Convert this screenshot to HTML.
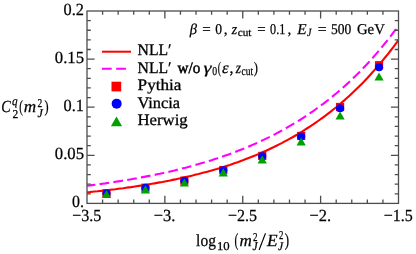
<!DOCTYPE html>
<html><head><meta charset="utf-8"><title>plot</title><style>
html,body{margin:0;padding:0;background:#fff;}
svg{display:block;}
text{font-family:"Liberation Serif",serif;fill:#000;stroke:#000;text-rendering:geometricPrecision;}
.i{font-style:italic;}
</style></head><body>
<svg width="416" height="254" viewBox="0 0 416 254">
<rect width="416" height="254" fill="#fff"/>
<defs><clipPath id="c"><rect x="87.00" y="11.00" width="311.50" height="192.40"/></clipPath></defs>

<g clip-path="url(#c)" fill="none" stroke-width="2.1">
<path d="M87.0,185.8 L89.6,185.5 L92.2,185.1 L94.8,184.8 L97.4,184.5 L100.0,184.1 L102.6,183.7 L105.2,183.4 L107.8,183.0 L110.4,182.6 L113.0,182.2 L115.6,181.8 L118.2,181.4 L120.7,181.0 L123.3,180.6 L125.9,180.2 L128.5,179.7 L131.1,179.3 L133.7,178.8 L136.3,178.4 L138.9,177.9 L141.5,177.4 L144.1,176.9 L146.7,176.4 L149.3,175.9 L151.9,175.4 L154.5,174.9 L157.1,174.3 L159.7,173.8 L162.3,173.2 L164.9,172.7 L167.5,172.1 L170.1,171.5 L172.7,170.9 L175.3,170.3 L177.9,169.6 L180.5,169.0 L183.0,168.3 L185.6,167.7 L188.2,167.0 L190.8,166.3 L193.4,165.6 L196.0,164.8 L198.6,164.1 L201.2,163.3 L203.8,162.6 L206.4,161.8 L209.0,161.0 L211.6,160.2 L214.2,159.3 L216.8,158.5 L219.4,157.6 L222.0,156.7 L224.6,155.8 L227.2,154.9 L229.8,154.0 L232.4,153.0 L235.0,152.0 L237.6,151.0 L240.2,150.0 L242.8,149.0 L245.3,147.9 L247.9,146.9 L250.5,145.7 L253.1,144.6 L255.7,143.5 L258.3,142.3 L260.9,141.1 L263.5,139.9 L266.1,138.6 L268.7,137.4 L271.3,136.1 L273.9,134.8 L276.5,133.4 L279.1,132.0 L281.7,130.6 L284.3,129.2 L286.9,127.7 L289.5,126.2 L292.1,124.7 L294.7,123.2 L297.3,121.6 L299.9,120.0 L302.5,118.3 L305.0,116.6 L307.6,114.9 L310.2,113.1 L312.8,111.4 L315.4,109.5 L318.0,107.7 L320.6,105.7 L323.2,103.8 L325.8,101.8 L328.4,99.8 L331.0,97.7 L333.6,95.6 L336.2,93.5 L338.8,91.2 L341.4,89.0 L344.0,86.7 L346.6,84.4 L349.2,82.0 L351.8,79.5 L354.4,77.0 L357.0,74.5 L359.6,71.9 L362.2,69.2 L364.8,66.5 L367.4,63.8 L369.9,61.0 L372.5,58.1 L375.1,55.1 L377.7,52.1 L380.3,49.1 L382.9,45.9 L385.5,42.7 L388.1,39.5 L390.7,36.1 L393.3,32.7 L395.9,29.3 L398.5,25.7" stroke="#ff00ff" stroke-dasharray="9.7 4.28" stroke-dashoffset="1.3"/>
<path d="M87.0,192.3 L89.6,192.1 L92.2,191.8 L94.8,191.5 L97.4,191.3 L100.0,191.0 L102.6,190.7 L105.2,190.4 L107.8,190.1 L110.4,189.8 L113.0,189.5 L115.6,189.2 L118.2,188.8 L120.7,188.5 L123.3,188.2 L125.9,187.8 L128.5,187.4 L131.1,187.1 L133.7,186.7 L136.3,186.3 L138.9,185.9 L141.5,185.5 L144.1,185.1 L146.7,184.7 L149.3,184.3 L151.9,183.8 L154.5,183.4 L157.1,182.9 L159.7,182.4 L162.3,182.0 L164.9,181.5 L167.5,181.0 L170.1,180.5 L172.7,179.9 L175.3,179.4 L177.9,178.8 L180.5,178.3 L183.0,177.7 L185.6,177.1 L188.2,176.5 L190.8,175.9 L193.4,175.3 L196.0,174.6 L198.6,174.0 L201.2,173.3 L203.8,172.6 L206.4,171.9 L209.0,171.2 L211.6,170.5 L214.2,169.7 L216.8,169.0 L219.4,168.2 L222.0,167.4 L224.6,166.6 L227.2,165.7 L229.8,164.9 L232.4,164.0 L235.0,163.1 L237.6,162.2 L240.2,161.2 L242.8,160.3 L245.3,159.3 L247.9,158.3 L250.5,157.3 L253.1,156.2 L255.7,155.2 L258.3,154.1 L260.9,153.0 L263.5,151.8 L266.1,150.7 L268.7,149.5 L271.3,148.2 L273.9,147.0 L276.5,145.7 L279.1,144.4 L281.7,143.1 L284.3,141.7 L286.9,140.3 L289.5,138.9 L292.1,137.5 L294.7,136.0 L297.3,134.5 L299.9,132.9 L302.5,131.3 L305.0,129.7 L307.6,128.0 L310.2,126.3 L312.8,124.6 L315.4,122.8 L318.0,121.0 L320.6,119.2 L323.2,117.3 L325.8,115.4 L328.4,113.4 L331.0,111.4 L333.6,109.3 L336.2,107.2 L338.8,105.0 L341.4,102.8 L344.0,100.6 L346.6,98.3 L349.2,95.9 L351.8,93.5 L354.4,91.1 L357.0,88.6 L359.6,86.0 L362.2,83.4 L364.8,80.7 L367.4,78.0 L369.9,75.2 L372.5,72.3 L375.1,69.4 L377.7,66.4 L380.3,63.3 L382.9,60.2 L385.5,57.0 L388.1,53.8 L390.7,50.5 L393.3,47.1 L395.9,43.6 L398.5,40.0" stroke="#ff0000"/>
</g>
<rect x="102.37" y="189.20" width="8.2" height="8.2" fill="#ff0000"/>
<rect x="141.31" y="183.60" width="8.2" height="8.2" fill="#ff0000"/>
<rect x="180.24" y="176.50" width="8.2" height="8.2" fill="#ff0000"/>
<rect x="219.18" y="166.00" width="8.2" height="8.2" fill="#ff0000"/>
<rect x="258.12" y="151.80" width="8.2" height="8.2" fill="#ff0000"/>
<rect x="297.06" y="131.80" width="8.2" height="8.2" fill="#ff0000"/>
<rect x="335.99" y="102.90" width="8.2" height="8.2" fill="#ff0000"/>
<rect x="374.93" y="61.10" width="8.2" height="8.2" fill="#ff0000"/>
<circle cx="106.47" cy="193.50" r="4.05" fill="#0000ff"/>
<circle cx="145.41" cy="187.90" r="4.05" fill="#0000ff"/>
<circle cx="184.34" cy="180.80" r="4.05" fill="#0000ff"/>
<circle cx="223.28" cy="170.30" r="4.05" fill="#0000ff"/>
<circle cx="262.22" cy="156.20" r="4.05" fill="#0000ff"/>
<circle cx="301.16" cy="136.50" r="4.05" fill="#0000ff"/>
<circle cx="340.09" cy="108.20" r="4.05" fill="#0000ff"/>
<circle cx="379.03" cy="67.20" r="4.05" fill="#0000ff"/>
<path d="M106.47,190.00 L111.07,198.10 L101.87,198.10 Z" fill="#00a000"/>
<path d="M145.41,185.30 L150.01,193.40 L140.81,193.40 Z" fill="#00a000"/>
<path d="M184.34,178.40 L188.94,186.50 L179.74,186.50 Z" fill="#00a000"/>
<path d="M223.28,168.30 L227.88,176.40 L218.68,176.40 Z" fill="#00a000"/>
<path d="M262.22,155.30 L266.82,163.40 L257.62,163.40 Z" fill="#00a000"/>
<path d="M301.16,137.30 L305.76,145.40 L296.56,145.40 Z" fill="#00a000"/>
<path d="M340.09,111.50 L344.69,119.60 L335.49,119.60 Z" fill="#00a000"/>
<path d="M379.03,72.50 L383.63,80.60 L374.43,80.60 Z" fill="#00a000"/>
<g stroke="#4d4d4d" stroke-width="1.3" fill="none">
<rect x="87.00" y="11.00" width="311.50" height="192.40"/>
<path d="M102.58,203.40 v-3.80 M102.58,11.00 v3.80"/>
<path d="M118.15,203.40 v-3.80 M118.15,11.00 v3.80"/>
<path d="M133.72,203.40 v-3.80 M133.72,11.00 v3.80"/>
<path d="M149.30,203.40 v-3.80 M149.30,11.00 v3.80"/>
<path d="M164.88,203.40 v-7.60 M164.88,11.00 v7.60"/>
<path d="M180.45,203.40 v-3.80 M180.45,11.00 v3.80"/>
<path d="M196.03,203.40 v-3.80 M196.03,11.00 v3.80"/>
<path d="M211.60,203.40 v-3.80 M211.60,11.00 v3.80"/>
<path d="M227.18,203.40 v-3.80 M227.18,11.00 v3.80"/>
<path d="M242.75,203.40 v-7.60 M242.75,11.00 v7.60"/>
<path d="M258.32,203.40 v-3.80 M258.32,11.00 v3.80"/>
<path d="M273.90,203.40 v-3.80 M273.90,11.00 v3.80"/>
<path d="M289.48,203.40 v-3.80 M289.48,11.00 v3.80"/>
<path d="M305.05,203.40 v-3.80 M305.05,11.00 v3.80"/>
<path d="M320.62,203.40 v-7.60 M320.62,11.00 v7.60"/>
<path d="M336.20,203.40 v-3.80 M336.20,11.00 v3.80"/>
<path d="M351.77,203.40 v-3.80 M351.77,11.00 v3.80"/>
<path d="M367.35,203.40 v-3.80 M367.35,11.00 v3.80"/>
<path d="M382.93,203.40 v-3.80 M382.93,11.00 v3.80"/>
<path d="M87.00,193.78 h3.80 M398.50,193.78 h-3.80"/>
<path d="M87.00,184.16 h3.80 M398.50,184.16 h-3.80"/>
<path d="M87.00,174.54 h3.80 M398.50,174.54 h-3.80"/>
<path d="M87.00,164.92 h3.80 M398.50,164.92 h-3.80"/>
<path d="M87.00,155.30 h7.60 M398.50,155.30 h-7.60"/>
<path d="M87.00,145.68 h3.80 M398.50,145.68 h-3.80"/>
<path d="M87.00,136.06 h3.80 M398.50,136.06 h-3.80"/>
<path d="M87.00,126.44 h3.80 M398.50,126.44 h-3.80"/>
<path d="M87.00,116.82 h3.80 M398.50,116.82 h-3.80"/>
<path d="M87.00,107.20 h7.60 M398.50,107.20 h-7.60"/>
<path d="M87.00,97.58 h3.80 M398.50,97.58 h-3.80"/>
<path d="M87.00,87.96 h3.80 M398.50,87.96 h-3.80"/>
<path d="M87.00,78.34 h3.80 M398.50,78.34 h-3.80"/>
<path d="M87.00,68.72 h3.80 M398.50,68.72 h-3.80"/>
<path d="M87.00,59.10 h7.60 M398.50,59.10 h-7.60"/>
<path d="M87.00,49.48 h3.80 M398.50,49.48 h-3.80"/>
<path d="M87.00,39.86 h3.80 M398.50,39.86 h-3.80"/>
<path d="M87.00,30.24 h3.80 M398.50,30.24 h-3.80"/>
<path d="M87.00,20.62 h3.80 M398.50,20.62 h-3.80"/>
</g>
<path d="M102,51.7 H131" stroke="#ff0000" stroke-width="2" fill="none"/>
<path d="M102,68.85 H130" stroke="#ff00ff" stroke-width="2" stroke-dasharray="9.7 4.5" fill="none"/>
<rect x="111.5" y="81.7" width="9.7" height="9.7" fill="#ff0000"/>
<circle cx="116.65" cy="103.65" r="5" fill="#0000ff"/>
<path d="M116.5,116.4 L122.1,126.2 L110.9,126.2 Z" fill="#00a000"/>
<g style="filter:blur(0px)">
<text transform="translate(63.60,15.00) scale(0.960,1.000)" font-size="17" stroke-width="0.25">0.2</text>
<text transform="translate(54.80,63.10) scale(0.982,1.000)" font-size="17" stroke-width="0.25">0.15</text>
<text transform="translate(63.60,111.20) scale(0.960,1.000)" font-size="17" stroke-width="0.25">0.1</text>
<text transform="translate(54.80,159.30) scale(0.982,1.000)" font-size="17" stroke-width="0.25">0.05</text>
<text transform="translate(72.10,207.40) scale(0.933,1.000)" font-size="17" stroke-width="0.25">0.</text>
<text transform="translate(72.17,221.00) scale(0.942,1.000)" font-size="17" stroke-width="0.25">−3.5</text>
<text transform="translate(153.80,221.00) scale(0.965,1.000)" font-size="17" stroke-width="0.25">−3.</text>
<text transform="translate(227.92,221.00) scale(0.942,1.000)" font-size="17" stroke-width="0.25">−2.5</text>
<text transform="translate(309.55,221.00) scale(0.965,1.000)" font-size="17" stroke-width="0.25">−2.</text>
<text transform="translate(383.68,221.00) scale(0.942,1.000)" font-size="17" stroke-width="0.25">−1.5</text>
<text transform="translate(137.60,55.25) scale(0.980,1.000)" font-size="16" stroke-width="0.3">NLL′</text>
<text transform="translate(137.60,72.60) scale(0.980,1.000)" font-size="16" stroke-width="0.3">NLL′</text>
<text transform="translate(177.50,72.60) scale(0.946,1.000)" font-size="16" stroke-width="0.5">w/o</text>
<text class="i" transform="translate(203.60,72.60) scale(1.274,1.000)" font-size="16" stroke-width="0.25">γ</text>
<text transform="translate(212.30,74.90) scale(0.817,1.000)" font-size="12" stroke-width="0.25">0</text>
<text transform="translate(217.70,72.60) scale(0.601,1.000)" font-size="16" stroke-width="0.25">(</text>
<text class="i" transform="translate(222.10,72.60) scale(1.039,1.000)" font-size="16" stroke-width="0.25">ε</text>
<text transform="translate(229.50,72.60)" font-size="16" stroke-width="0.25">,</text>
<text class="i" transform="translate(235.86,72.60) scale(0.849,1.000)" font-size="16" stroke-width="0.25">z</text>
<text transform="translate(241.50,74.70) scale(0.784,1.000)" font-size="12" stroke-width="0.25">cut</text>
<text transform="translate(253.85,72.60) scale(0.779,1.000)" font-size="16" stroke-width="0.25">)</text>
<text transform="translate(137.60,90.00) scale(1.071,1.000)" font-size="16" stroke-width="0.3">Pythia</text>
<text transform="translate(137.50,107.50) scale(1.022,1.000)" font-size="16" stroke-width="0.3">Vincia</text>
<text transform="translate(137.50,124.90) scale(1.046,1.000)" font-size="16" stroke-width="0.3">Herwig</text>
<text class="i" transform="translate(189.75,34.00) scale(0.971,1.000)" font-size="15" stroke-width="0.25">β</text>
<text transform="translate(202.30,34.00) scale(1.005,1.000)" font-size="15" stroke-width="0.25">=</text>
<text transform="translate(215.30,34.00) scale(0.907,1.000)" font-size="15" stroke-width="0.25">0</text>
<text transform="translate(223.80,34.00)" font-size="15" stroke-width="0.25">,</text>
<text class="i" transform="translate(231.66,34.00) scale(0.914,1.000)" font-size="15" stroke-width="0.25">z</text>
<text transform="translate(237.70,36.20) scale(1.019,1.000)" font-size="11" stroke-width="0.25">cut</text>
<text transform="translate(257.30,34.00) scale(0.993,1.000)" font-size="15" stroke-width="0.25">=</text>
<text transform="translate(270.10,34.00) scale(0.811,1.000)" font-size="15" stroke-width="0.25">0.1</text>
<text transform="translate(287.40,34.00)" font-size="15" stroke-width="0.25">,</text>
<text class="i" transform="translate(297.18,34.00) scale(1.017,1.000)" font-size="15" stroke-width="0.25">E</text>
<text class="i" transform="translate(307.10,36.20) scale(0.903,1.000)" font-size="11" stroke-width="0.25">J</text>
<text transform="translate(317.80,34.00) scale(1.052,1.000)" font-size="15" stroke-width="0.25">=</text>
<text transform="translate(331.00,34.00) scale(0.902,1.000)" font-size="15" stroke-width="0.25">500</text>
<text transform="translate(356.90,34.00) scale(0.989,1.000)" font-size="15" stroke-width="0.25">GeV</text>
<text class="i" transform="translate(1.30,112.20) scale(0.834,1.000)" font-size="17" stroke-width="0.25">C</text>
<text class="i" transform="translate(11.90,104.80) scale(0.933,1.000)" font-size="12" stroke-width="0.25">q</text>
<text transform="translate(12.40,117.80) scale(0.950,1.000)" font-size="12" stroke-width="0.25">2</text>
<text transform="translate(19.30,112.20) scale(0.636,1.000)" font-size="17" stroke-width="0.25">(</text>
<text class="i" transform="translate(23.80,112.20) scale(1.010,1.000)" font-size="17" stroke-width="0.25">m</text>
<text transform="translate(37.60,107.10) scale(0.783,1.000)" font-size="12" stroke-width="0.25">2</text>
<text class="i" transform="translate(37.40,116.60)" font-size="12" stroke-width="0.25">J</text>
<text transform="translate(44.60,112.20) scale(0.724,1.000)" font-size="17" stroke-width="0.25">)</text>
<text transform="translate(196.10,246.00) scale(0.911,1.000)" font-size="17" stroke-width="0.25">log</text>
<text transform="translate(216.90,250.00) scale(1.062,1.000)" font-size="12" stroke-width="0.25">10</text>
<text transform="translate(234.60,246.00) scale(0.617,1.000)" font-size="18.5" stroke-width="0.25">(</text>
<text class="i" transform="translate(239.50,246.00) scale(1.002,1.000)" font-size="17" stroke-width="0.25">m</text>
<text transform="translate(252.90,240.50) scale(0.750,1.000)" font-size="12" stroke-width="0.25">2</text>
<text class="i" transform="translate(252.50,250.40) scale(0.966,1.000)" font-size="12" stroke-width="0.25">J</text>
<path d="M259.1,250.0 L265.5,233.3" stroke="#000" stroke-width="1.1" fill="none"/>
<text class="i" transform="translate(267.01,246.00) scale(1.020,1.000)" font-size="17" stroke-width="0.25">E</text>
<text transform="translate(278.90,238.80) scale(0.733,1.000)" font-size="12" stroke-width="0.25">2</text>
<text class="i" transform="translate(278.10,250.40) scale(0.966,1.000)" font-size="12" stroke-width="0.25">J</text>
<text transform="translate(284.80,246.00) scale(0.698,1.000)" font-size="18.5" stroke-width="0.25">)</text>
</g>
</svg></body></html>
